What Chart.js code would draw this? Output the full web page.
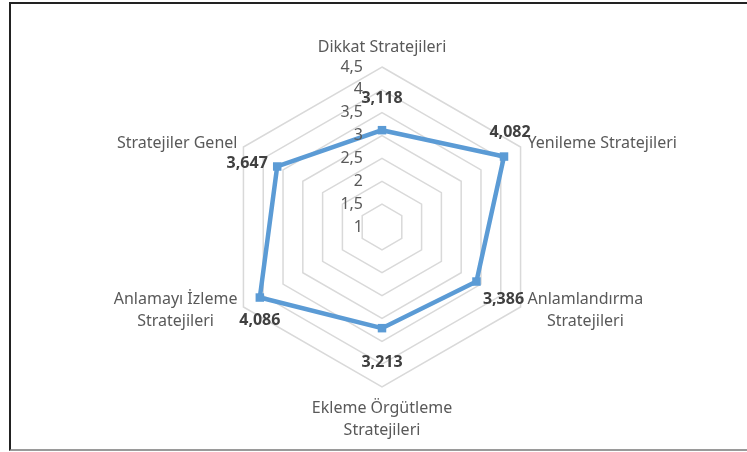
<!DOCTYPE html>
<html>
<head>
<meta charset="utf-8">
<script src="https://cdn.jsdelivr.net/npm/chart.js@4"></script>
<style>
  html, body { margin: 0; padding: 0; background: #fff; }
  #wrap { position: relative; width: 747px; height: 452px; overflow: hidden; }
  #frame { position: absolute; left: 9px; top: 2px; width: 740px; height: 445px;
           border-left: 2px solid #222; border-top: 2px solid #222; border-bottom: 2px solid #9a9a9a; }
  canvas { position: absolute; left: 0; top: 0; }
</style>
</head>
<body>
<div id="wrap">
  <div id="frame"></div>
  <canvas id="myChart" width="747" height="452"></canvas>
</div>
<script>
var categories = [
    ["Dikkat Stratejileri"],
    ["Yenileme Stratejileri"],
    ["Anlamlandırma", "Stratejileri"],
    ["Ekleme Örgütleme", "Stratejileri"],
    ["Anlamayı İzleme", "Stratejileri"],
    ["Stratejiler Genel"]
];
var values = [3.118, 4.082, 3.386, 3.213, 4.086, 3.647];
var tickLabels = ["1", "1,5", "2", "2,5", "3", "3,5", "4", "4,5"];

// where each value label sits relative to its marker
var labelOffsets = [[0, -32], [6, -24], [27, 18], [0, 34], [0, 23], [-30, -3]];

var fontFamily = "'Noto Sans', 'Liberation Sans', sans-serif";

function fmt(v) {
    return v.toFixed(3).replace(".", ",");
}

var textPlugin = {
    id: "radarText",
    afterDraw: function (chart) {
        var ctx = chart.ctx;
        var scale = chart.scales.r;
        var outer = scale.getDistanceFromCenterForValue(scale.max);
        ctx.save();

        // tick labels, to the left of the top spoke
        ctx.font = "16px " + fontFamily;
        ctx.fillStyle = "#595959";
        ctx.textAlign = "right";
        ctx.textBaseline = "middle";
        scale.ticks.forEach(function (t, i) {
            var d = scale.getDistanceFromCenterForValue(t.value);
            ctx.fillText(tickLabels[i], scale.xCenter - 19, scale.yCenter - d);
        });

        // category labels
        ctx.font = "16px " + fontFamily;
        var lh = 22;
        categories.forEach(function (lines, i) {
            var p = scale.getPointPosition(i, outer);
            var w = Math.max.apply(null, lines.map(function (s) { return ctx.measureText(s).width; }));
            var h = lines.length * lh;
            var cx, cy;
            var dx = p.x - scale.xCenter, dy = p.y - scale.yCenter;
            if (Math.abs(dx) < 1) {
                cx = p.x;
                cy = dy < 0 ? p.y - 9 - h / 2 : p.y + 10 + h / 2;
            } else if (dx > 0) {
                cx = p.x + 7 + w / 2;
                cy = dy < 0 ? p.y - 4 : p.y + 3;
            } else {
                cx = p.x - 6 - w / 2;
                cy = dy < 0 ? p.y - 4 : p.y + 3;
            }
            ctx.textAlign = "center";
            lines.forEach(function (s, k) {
                ctx.fillText(s, cx, cy - h / 2 + lh / 2 + k * lh);
            });
        });

        // value labels
        ctx.font = "bold 16px " + fontFamily;
        ctx.fillStyle = "#404040";
        ctx.textAlign = "center";
        var meta = chart.getDatasetMeta(0);
        meta.data.forEach(function (pt, i) {
            ctx.fillText(fmt(values[i]), pt.x + labelOffsets[i][0], pt.y + labelOffsets[i][1]);
        });
        ctx.restore();
    }
};

var ctx = document.getElementById("myChart").getContext("2d");
var myChart = new Chart(ctx, {
    type: "radar",
    data: {
        labels: categories,
        datasets: [{
            data: values,
            borderColor: "#5B9BD5",
            backgroundColor: "#5B9BD5",
            borderWidth: 4.5,
            fill: false,
            pointStyle: "rect",
            pointRadius: 6,
            pointBackgroundColor: "#5B9BD5",
            pointBorderWidth: 0
        }]
    },
    options: {
        responsive: false,
        animation: false,
        layout: { padding: { left: 222, right: 205, top: 67, bottom: 65 } },
        plugins: { legend: { display: false }, tooltip: { enabled: false } },
        scales: {
            r: {
                min: 1,
                max: 4.5,
                ticks: { stepSize: 0.5, display: false },
                grid: { color: "#D9D9D9", lineWidth: 1.5 },
                angleLines: { display: false },
                pointLabels: { display: false }
            }
        }
    },
    plugins: [textPlugin]
});
</script>
</body>
</html>
